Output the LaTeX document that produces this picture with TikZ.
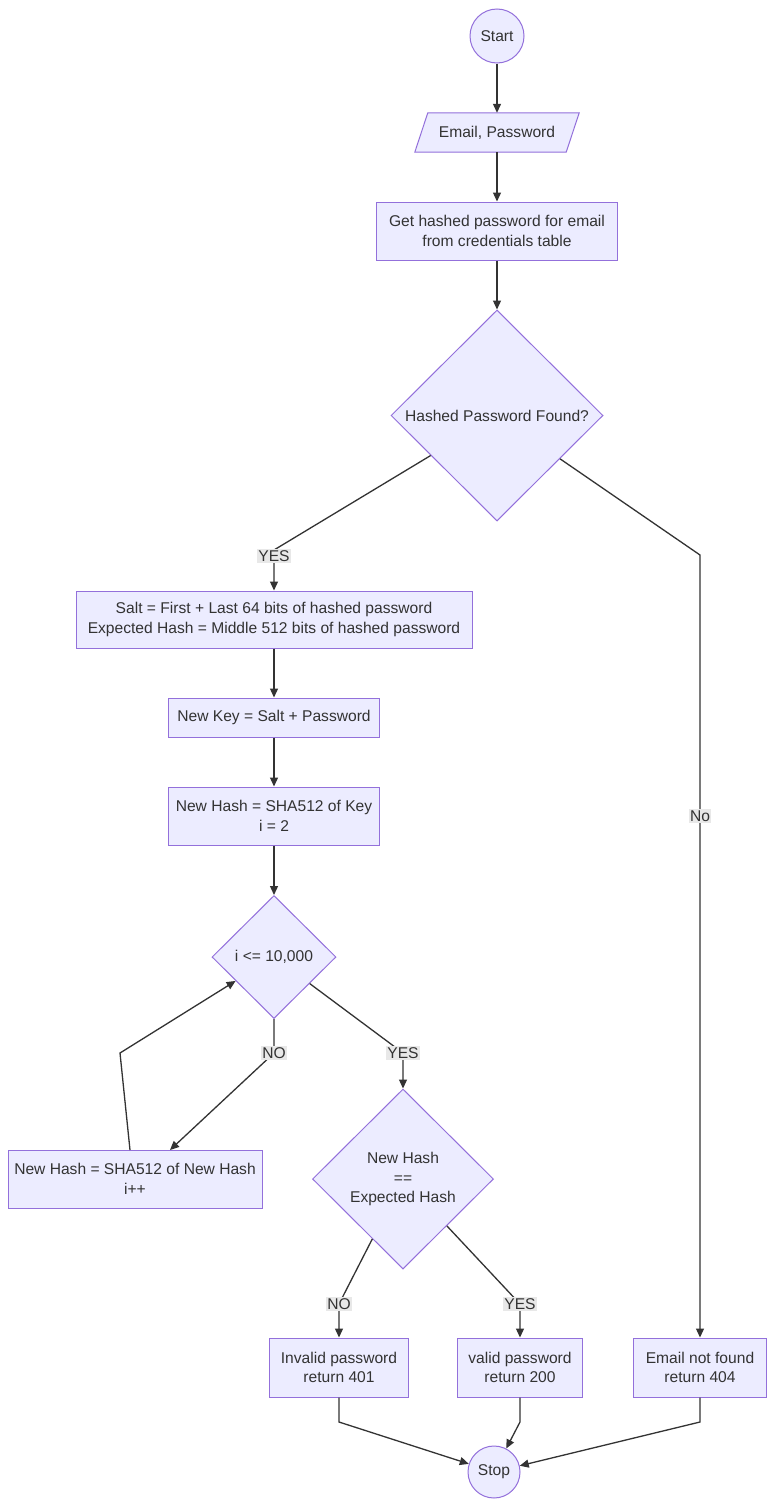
\documentclass[tikz,border=0pt]{standalone}
\usepackage{fontspec}
\setmainfont{Liberation Sans}
\usetikzlibrary{shapes.geometric,arrows.meta}
\definecolor{nodefill}{HTML}{ECECFF}
\definecolor{nodeline}{HTML}{9370DB}
\definecolor{edgecol}{HTML}{333333}
\definecolor{lblbg}{HTML}{E8E8E8}
\definecolor{txt}{HTML}{333333}
\begin{document}
\begin{tikzpicture}[x=1pt,y=-1pt,
  every node/.style={font=\fontsize{15.6}{19.5}\selectfont, text=txt},
  box/.style={draw=nodeline, fill=nodefill, line width=1pt, inner sep=0pt, align=center, rectangle},
  term/.style={draw=nodeline, fill=nodefill, line width=1pt, inner sep=0pt, circle},
  dec/.style={draw=nodeline, fill=nodefill, line width=1pt, inner sep=0pt, diamond, align=center},
  lbl/.style={fill=lblbg, inner sep=1.5pt},
  flow/.style={draw=edgecol, line width=1.3pt, -{Triangle[length=9pt,width=8pt]}},
  plain/.style={draw=edgecol, line width=1.3pt}]
\useasboundingbox (0,0) rectangle (775,1507);
\fill[white] (0,0) rectangle (775,1507);

% nodes
\node[term, minimum size=54] (start) at (497,36) {Start};
\node[rectangle, inner sep=0pt, minimum width=164, minimum height=39] (email) at (497,132.5) {};
\fill[nodefill] ([xshift=13]email.north west) -- (email.north east) -- ([xshift=-13]email.south east) -- (email.south west) -- cycle;
\draw[nodeline, line width=1pt] ([xshift=13]email.north west) -- (email.north east) -- ([xshift=-13]email.south east) -- (email.south west) -- cycle;
\node at (email.center) {Email, Password};
\node[box, minimum width=241, minimum height=58] (gethash) at (497,231) {Get hashed password for email\\from credentials table};
\node[dec, minimum width=212, minimum height=211] (found) at (497,415.5) {Hashed Password Found?};
\node[box, minimum width=396, minimum height=57] (salt) at (274,619.5) {Salt = First + Last 64 bits of hashed password\\Expected Hash = Middle 512 bits of hashed password};
\node[box, minimum width=211, minimum height=39] (newkey) at (274,717.5) {New Key = Salt + Password};
\node[box, minimum width=211, minimum height=58] (newhash) at (274,816) {New Hash = SHA512 of Key\\i = 2};
\node[dec, minimum width=124, minimum height=123] (loop) at (274,957) {i <= 10,000};
\node[box, minimum width=254, minimum height=58] (rehash) at (135,1179) {New Hash = SHA512 of New Hash\\i++};
\node[dec, minimum width=181, minimum height=180] (cmp) at (403,1179) {New Hash\\==\\Expected Hash};
\node[box, minimum width=139, minimum height=59] (invalid) at (339,1367.5) {Invalid password\\return 401};
\node[box, minimum width=125, minimum height=59] (valid) at (520,1367.5) {valid password\\return 200};
\node[box, minimum width=133, minimum height=59] (notfound) at (700,1367.5) {Email not found\\return 404};
\node[term, minimum size=52] (stop) at (494,1472) {Stop};

% coordinates
\coordinate (yes1) at (274,550);
\coordinate (no1) at (700,555);
\coordinate (no2) at (274,1053);
\coordinate (yes2) at (403,1053);
\coordinate (rehashin) at (170,1150);
\coordinate (rehashout) at (130,1150);
\coordinate (loopbend) at (120,1053);
\coordinate (no3) at (339,1304);
\coordinate (yes3) at (520,1304);
\coordinate (b1) at (339,1422);
\coordinate (b2) at (520,1422);
\coordinate (b3) at (700,1422);

% edges
\draw[flow] (start) -- (email.north);
\draw[flow] (email.south) -- (gethash.north);
\draw[flow] (gethash.south) -- (found.north);
\draw[flow] (found) -- (yes1) -- (salt.north);
\draw[flow] (found) -- (no1) -- (notfound.north);
\draw[flow] (salt.south) -- (newkey.north);
\draw[flow] (newkey.south) -- (newhash.north);
\draw[flow] (newhash.south) -- (loop.north);
\draw[flow] (loop.south) -- (no2) -- (rehashin);
\draw[flow] (rehashout) -- (loopbend) -- (loop);
\draw[flow] (loop) -- (yes2) -- (cmp.north);
\draw[flow] (cmp) -- (no3) -- (invalid.north);
\draw[flow] (cmp) -- (yes3) -- (valid.north);
\draw[flow] (invalid.south) -- (b1) -- (stop);
\draw[flow] (valid.south) -- (b2) -- (stop);
\draw[flow] (notfound.south) -- (b3) -- (stop);

% labels
\node[lbl] (lyes1) at (274,556) {YES};
\node[lbl] (lno1) at (700,816) {No};
\node[lbl] (lno2) at (274,1053) {NO};
\node[lbl] (lyes2) at (403,1053) {YES};
\node[lbl] (lno3) at (339,1304) {NO};
\node[lbl] (lyes3) at (520,1304) {YES};
\end{tikzpicture}
\end{document}
